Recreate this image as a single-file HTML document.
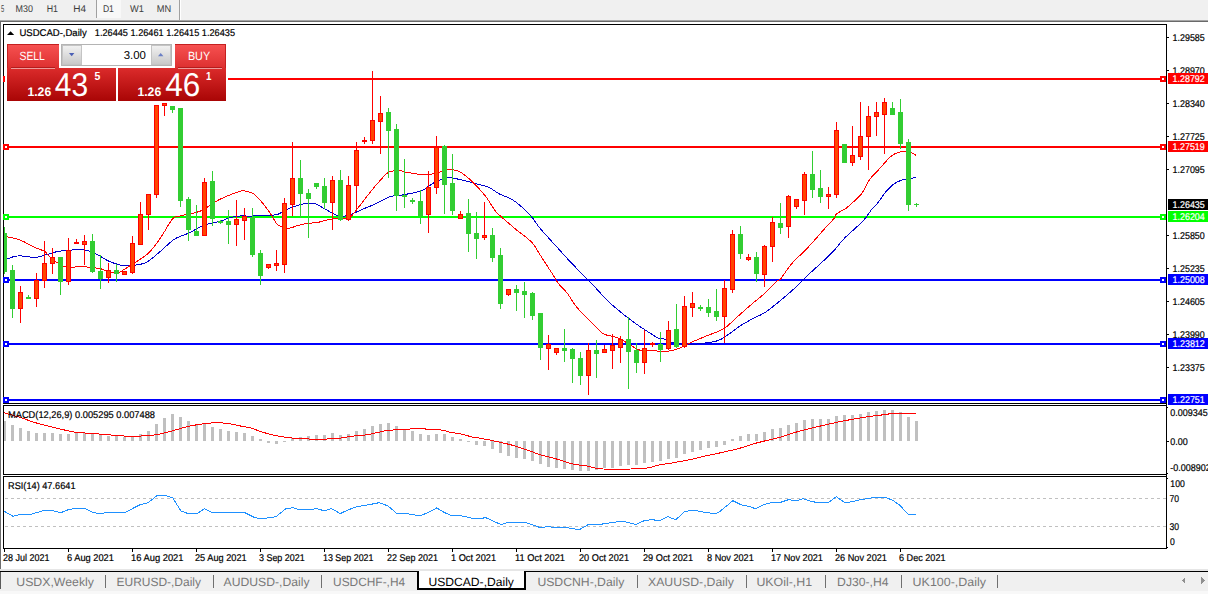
<!DOCTYPE html>
<html><head><meta charset="utf-8"><title>USDCAD-,Daily</title>
<style>
html,body{margin:0;padding:0;background:#fff;overflow:hidden}
svg{display:block;font-family:"Liberation Sans",sans-serif}
rect,polygon{shape-rendering:crispEdges}
</style></head><body>
<svg width="1208" height="594" viewBox="0 0 1208 594" text-rendering="geometricPrecision">
<rect x="0" y="0" width="1208" height="594" fill="#fff"/>
<rect x="0" y="0" width="1208" height="20" fill="#f0f0f0"/>
<rect x="97" y="0" width="24" height="18" fill="#f8f8f8"/>
<rect x="96" y="0" width="1" height="18" fill="#a0a0a0"/>
<rect x="179" y="0" width="1" height="20" fill="#a0a0a0"/>
<rect x="180" y="0" width="1" height="20" fill="#fff"/>
<rect x="0" y="20" width="1208" height="1" fill="#a6a6a6"/>
<rect x="0" y="21" width="1208" height="1" fill="#696969"/>
<rect x="0" y="22" width="1" height="547" fill="#6d6d6d"/>
<text x="1" y="12" font-size="9.8" fill="#3c3c3c" textLength="3.2" lengthAdjust="spacingAndGlyphs">5</text>
<text x="15.5" y="12" font-size="9.8" fill="#3c3c3c" textLength="17.4" lengthAdjust="spacingAndGlyphs">M30</text>
<text x="46.7" y="12" font-size="9.8" fill="#3c3c3c" textLength="11.3" lengthAdjust="spacingAndGlyphs">H1</text>
<text x="73.3" y="12" font-size="9.8" fill="#3c3c3c" textLength="12.8" lengthAdjust="spacingAndGlyphs">H4</text>
<text x="102.9" y="12" font-size="9.8" fill="#3c3c3c" textLength="11" lengthAdjust="spacingAndGlyphs">D1</text>
<text x="130.1" y="12" font-size="9.8" fill="#3c3c3c" textLength="13.9" lengthAdjust="spacingAndGlyphs">W1</text>
<text x="156.8" y="12" font-size="9.8" fill="#3c3c3c" textLength="14.4" lengthAdjust="spacingAndGlyphs">MN</text>
<rect x="3" y="24" width="1164" height="1" fill="#000"/>
<rect x="3" y="24" width="1" height="380" fill="#000"/>
<rect x="3" y="405" width="1" height="70" fill="#000"/>
<rect x="3" y="476" width="1" height="73" fill="#000"/>
<rect x="1166" y="24" width="1" height="525" fill="#000"/>
<rect x="3" y="403" width="1163" height="1" fill="#000"/>
<rect x="3" y="405" width="1163" height="1" fill="#000"/>
<rect x="3" y="474" width="1163" height="1" fill="#000"/>
<rect x="3" y="476" width="1163" height="1" fill="#000"/>
<rect x="3" y="548" width="1164" height="1" fill="#000"/>
<rect x="4" y="78" width="1162" height="2" fill="#ff0000"/>
<rect x="4" y="146" width="1162" height="2" fill="#ff0000"/>
<rect x="4" y="216" width="1162" height="2" fill="#00ff00"/>
<rect x="4" y="279" width="1162" height="2" fill="#0000ff"/>
<rect x="4" y="343" width="1162" height="2" fill="#0000ff"/>
<rect x="4" y="399" width="1162" height="2" fill="#0000ff"/>
<g shape-rendering="crispEdges">
<path d="M4.0,260.0C4.4,259.9 5.0,259.7 6.8,259.1C8.6,258.5 12.6,256.7 15.5,256.2C18.4,255.7 22.1,256.0 25.2,256.2C28.3,256.4 31.8,257.9 34.9,257.7C38.0,257.5 40.9,256.2 44.6,255.2C48.3,254.2 53.8,252.2 58.1,251.4C62.4,250.6 67.3,250.2 71.7,250.0C76.1,249.8 81.3,249.3 85.3,250.0C89.3,250.7 93.2,252.5 96.9,254.3C100.6,256.1 104.8,259.3 108.5,261.0C112.2,262.7 116.4,264.3 120.2,265.0C124.0,265.7 127.9,265.8 132.1,265.4C136.3,265.0 141.8,264.7 146.3,262.4C150.8,260.1 155.9,255.0 160.4,251.3C164.9,247.6 170.0,242.0 174.5,239.1C179.0,236.2 183.9,235.4 188.7,233.1C193.5,230.8 199.6,226.9 204.8,225.0C210.0,223.1 217.1,222.1 221.0,221.0C224.9,219.9 225.9,218.7 229.1,217.9C232.3,217.1 237.9,216.2 241.2,215.9C244.5,215.6 245.0,216.2 250.0,216.1C255.0,216.0 267.7,215.4 272.2,215.1C276.7,214.8 275.4,215.2 278.3,214.1C281.2,213.0 286.5,209.6 290.4,208.0C294.3,206.4 298.7,204.7 302.6,204.0C306.5,203.3 311.1,202.7 314.7,203.5C318.3,204.3 320.9,207.0 324.8,209.0C328.7,211.0 335.0,215.1 338.9,216.1C342.8,217.1 345.1,216.2 349.0,215.1C352.9,214.0 359.0,210.8 363.2,209.0C367.4,207.2 371.1,205.9 375.3,204.0C379.5,202.1 385.6,198.3 389.5,196.9C393.4,195.5 396.3,195.8 399.6,195.3C402.9,194.8 406.6,194.3 410.2,193.5C413.8,192.7 418.4,192.3 422.3,190.5C426.2,188.7 430.3,184.4 434.5,182.4C438.7,180.4 444.7,178.2 448.6,177.7C452.5,177.2 454.5,178.4 458.7,179.3C462.9,180.2 470.1,182.1 474.9,183.4C479.7,184.7 485.1,185.7 489.0,187.4C492.9,189.1 495.6,192.0 499.2,193.9C502.8,195.8 507.7,197.1 511.3,199.1C514.9,201.1 518.2,203.8 521.4,206.6C524.6,209.4 528.6,213.3 531.5,216.7C534.4,220.1 536.6,224.2 539.6,227.8C542.6,231.4 546.7,235.9 550.0,239.5C553.3,243.1 556.8,247.0 560.0,250.5C563.2,254.0 566.2,257.5 570.0,261.5C573.8,265.5 580.2,272.0 583.7,275.5C587.2,279.0 588.9,280.5 591.8,283.6C594.7,286.7 598.7,291.3 601.9,294.7C605.1,298.1 608.4,301.6 612.0,304.8C615.6,308.0 620.3,311.8 624.2,314.9C628.1,318.0 632.4,321.2 636.3,324.0C640.2,326.8 644.8,329.8 648.4,332.1C652.0,334.4 655.8,337.0 658.5,338.2C661.2,339.4 662.4,338.5 665.1,339.3C667.8,340.1 671.0,342.5 675.2,343.3C679.4,344.1 686.9,344.3 691.4,344.3C695.9,344.3 699.3,343.9 703.5,343.3C707.7,342.7 714.1,341.8 717.7,340.7C721.3,339.6 722.2,338.6 725.8,336.3C729.4,334.0 735.7,328.9 739.9,326.1C744.1,323.3 748.1,321.2 752.0,319.1C755.9,317.0 760.3,315.4 764.2,313.0C768.1,310.6 772.4,307.0 776.3,303.9C780.2,300.8 784.5,297.2 788.4,293.8C792.3,290.4 798.2,284.9 800.5,282.7C802.8,280.5 800.4,282.2 802.9,279.8C805.4,277.4 811.4,272.0 816.1,267.6C820.8,263.2 827.7,257.2 832.2,252.5C836.7,247.8 840.5,242.3 844.4,238.3C848.3,234.3 853.2,230.3 856.5,227.2C859.8,224.1 862.6,221.5 865.0,218.7C867.4,215.9 869.3,212.4 871.4,209.8C873.5,207.2 875.6,205.6 877.9,202.7C880.2,199.8 883.4,194.6 886.0,191.6C888.6,188.6 891.4,185.8 894.0,183.9C896.6,182.0 899.5,180.8 902.1,180.0C904.7,179.2 908.0,179.5 910.2,179.0C912.4,178.5 915.0,177.3 915.9,177.0" fill="none" stroke="#0000cd" stroke-width="1"/>
<path d="M4.0,236.5C4.4,236.5 4.3,236.3 6.8,236.8C9.3,237.3 14.9,238.0 19.4,239.7C23.9,241.4 30.9,245.6 34.9,247.5C38.9,249.4 42.1,249.8 44.6,251.4C47.1,253.0 47.3,254.8 50.4,257.2C53.5,259.6 58.4,264.7 64.0,266.3C69.6,267.9 79.4,266.5 85.3,266.9C91.2,267.3 97.1,268.0 100.8,268.8C104.5,269.6 105.7,271.1 108.5,271.7C111.3,272.3 115.5,273.1 118.0,272.7C120.5,272.3 121.7,270.8 124.0,269.5C126.3,268.2 128.2,267.0 132.1,264.4C136.0,261.8 143.8,257.5 148.3,253.3C152.8,249.1 156.5,243.6 160.4,238.1C164.3,232.6 169.3,222.5 172.5,218.9C175.7,215.3 176.1,217.2 180.6,215.9C185.1,214.6 195.0,213.3 200.8,210.9C206.6,208.5 211.8,203.6 217.0,200.8C222.2,198.0 228.9,195.3 233.1,193.7C237.3,192.1 240.0,190.7 243.2,190.7C246.4,190.7 250.6,192.2 253.3,193.7C256.0,195.2 257.3,196.8 260.0,199.9C262.7,203.0 267.6,209.4 270.2,213.1C272.8,216.8 274.4,220.9 276.3,223.2C278.2,225.5 280.5,226.3 282.3,227.2C284.1,228.1 284.2,229.3 287.4,228.8C290.6,228.3 297.6,225.3 302.6,224.2C307.6,223.1 314.2,223.0 318.7,222.2C323.2,221.4 326.1,219.8 330.9,219.1C335.7,218.4 344.2,219.7 348.4,218.1C352.6,216.5 353.4,213.4 357.1,209.0C360.8,204.6 367.5,195.5 371.3,190.8C375.1,186.1 378.2,182.5 381.0,179.5C383.8,176.5 385.5,173.7 388.5,172.3C391.5,170.9 396.8,170.5 399.6,170.5C402.4,170.5 401.9,171.6 406.2,172.3C410.5,173.0 421.2,174.9 426.4,174.9C431.6,174.9 434.9,173.1 438.5,172.3C442.1,171.5 445.4,170.0 448.6,169.8C451.8,169.6 455.1,169.6 458.7,171.3C462.3,173.0 466.7,176.4 470.9,180.3C475.1,184.2 481.1,190.6 485.0,195.5C488.9,200.4 492.5,207.3 495.1,210.7C497.7,214.1 498.0,213.8 501.2,216.7C504.4,219.6 510.5,224.9 515.3,228.9C520.1,232.9 527.6,238.0 531.5,242.0C535.4,246.0 536.1,248.7 539.6,254.1C543.1,259.5 550.4,270.8 553.4,275.5C556.4,280.2 556.2,280.7 558.5,283.6C560.8,286.5 564.9,290.1 567.6,293.7C570.3,297.3 572.7,302.1 575.6,305.8C578.5,309.5 582.6,313.5 585.8,316.9C589.0,320.3 593.0,324.2 595.9,327.0C598.8,329.8 600.7,332.5 603.9,334.1C607.1,335.7 612.9,336.1 616.1,337.2C619.3,338.3 621.6,339.7 624.2,341.2C626.8,342.7 629.6,344.8 632.2,346.3C634.8,347.8 637.1,349.7 640.3,350.3C643.5,350.9 649.3,350.1 652.5,350.3C655.7,350.5 657.7,351.2 660.0,351.4C662.3,351.6 664.0,351.9 667.1,351.4C670.2,350.9 675.4,349.9 679.3,348.4C683.2,346.9 687.2,344.2 691.4,342.3C695.6,340.4 700.3,338.5 705.5,336.3C710.7,334.1 718.8,331.7 723.7,328.8C728.6,325.9 731.4,322.1 735.9,318.1C740.4,314.1 747.5,307.8 752.0,303.9C756.5,300.0 760.3,297.4 764.2,293.8C768.1,290.2 773.7,284.1 776.3,281.7C778.9,279.3 778.2,281.7 780.7,278.8C783.2,275.9 787.4,268.6 791.8,263.6C796.2,258.6 802.8,252.9 808.0,247.4C813.2,241.9 820.0,233.9 824.2,229.2C828.4,224.5 832.4,220.5 834.3,218.1C836.2,215.7 834.4,215.7 836.3,214.1C838.2,212.5 843.6,210.0 846.4,208.0C849.2,206.0 851.2,204.0 853.6,201.7C856.0,199.4 859.1,197.2 861.7,193.6C864.3,190.0 866.9,183.4 869.8,179.4C872.7,175.4 876.7,171.9 879.9,168.3C883.1,164.7 887.4,159.6 890.0,157.2C892.6,154.8 894.2,154.1 896.1,153.2C898.0,152.3 899.8,151.9 902.1,151.7C904.4,151.5 908.0,151.6 910.2,152.2C912.4,152.8 915.0,154.7 915.9,155.2" fill="none" stroke="#ff0000" stroke-width="1"/>
</g>
<rect x="4" y="227" width="1" height="47" fill="#32cd32"/>
<rect x="2" y="233" width="5" height="39" fill="#32cd32"/>
<rect x="12" y="265" width="1" height="53" fill="#32cd32"/>
<rect x="10" y="270" width="5" height="39" fill="#32cd32"/>
<rect x="20" y="286" width="1" height="37" fill="#ff0000"/>
<rect x="18" y="292" width="5" height="17" fill="#ff0000"/>
<rect x="19" y="293" width="3" height="15" fill="#ff4500"/>
<rect x="28" y="295" width="1" height="4" fill="#32cd32"/>
<rect x="26" y="297" width="5" height="2" fill="#32cd32"/>
<rect x="36" y="273" width="1" height="34" fill="#ff0000"/>
<rect x="34" y="280" width="5" height="19" fill="#ff0000"/>
<rect x="35" y="281" width="3" height="17" fill="#ff4500"/>
<rect x="44" y="241" width="1" height="47" fill="#ff0000"/>
<rect x="42" y="263" width="5" height="18" fill="#ff0000"/>
<rect x="43" y="264" width="3" height="16" fill="#ff4500"/>
<rect x="52" y="248" width="1" height="26" fill="#ff0000"/>
<rect x="50" y="257" width="5" height="7" fill="#ff0000"/>
<rect x="51" y="258" width="3" height="5" fill="#ff4500"/>
<rect x="60" y="257" width="1" height="38" fill="#32cd32"/>
<rect x="58" y="257" width="5" height="25" fill="#32cd32"/>
<rect x="68" y="238" width="1" height="47" fill="#ff0000"/>
<rect x="66" y="250" width="5" height="32" fill="#ff0000"/>
<rect x="67" y="251" width="3" height="30" fill="#ff4500"/>
<rect x="76" y="239" width="1" height="5" fill="#ff0000"/>
<rect x="74" y="242" width="5" height="2" fill="#ff0000"/>
<rect x="84" y="235" width="1" height="30" fill="#ff0000"/>
<rect x="82" y="241" width="5" height="4" fill="#ff0000"/>
<rect x="83" y="242" width="3" height="2" fill="#ff4500"/>
<rect x="92" y="234" width="1" height="39" fill="#32cd32"/>
<rect x="90" y="241" width="5" height="31" fill="#32cd32"/>
<rect x="100" y="255" width="1" height="34" fill="#32cd32"/>
<rect x="98" y="271" width="5" height="8" fill="#32cd32"/>
<rect x="108" y="263" width="1" height="20" fill="#ff0000"/>
<rect x="106" y="270" width="5" height="8" fill="#ff0000"/>
<rect x="107" y="271" width="3" height="6" fill="#ff4500"/>
<rect x="116" y="264" width="1" height="18" fill="#32cd32"/>
<rect x="114" y="270" width="5" height="4" fill="#32cd32"/>
<rect x="124" y="271" width="1" height="4" fill="#ff0000"/>
<rect x="122" y="271" width="5" height="4" fill="#ff0000"/>
<rect x="123" y="272" width="3" height="2" fill="#ff4500"/>
<rect x="132" y="236" width="1" height="38" fill="#ff0000"/>
<rect x="130" y="243" width="5" height="30" fill="#ff0000"/>
<rect x="131" y="244" width="3" height="28" fill="#ff4500"/>
<rect x="140" y="202" width="1" height="43" fill="#ff0000"/>
<rect x="138" y="214" width="5" height="31" fill="#ff0000"/>
<rect x="139" y="215" width="3" height="29" fill="#ff4500"/>
<rect x="148" y="194" width="1" height="36" fill="#ff0000"/>
<rect x="146" y="194" width="5" height="21" fill="#ff0000"/>
<rect x="147" y="195" width="3" height="19" fill="#ff4500"/>
<rect x="156" y="105" width="1" height="93" fill="#ff0000"/>
<rect x="154" y="105" width="5" height="90" fill="#ff0000"/>
<rect x="155" y="106" width="3" height="88" fill="#ff4500"/>
<rect x="164" y="103" width="1" height="13" fill="#ff0000"/>
<rect x="162" y="103" width="5" height="3" fill="#ff0000"/>
<rect x="163" y="104" width="3" height="1" fill="#ff4500"/>
<rect x="172" y="106" width="1" height="7" fill="#32cd32"/>
<rect x="170" y="106" width="5" height="4" fill="#32cd32"/>
<rect x="180" y="108" width="1" height="99" fill="#32cd32"/>
<rect x="178" y="108" width="5" height="93" fill="#32cd32"/>
<rect x="188" y="197" width="1" height="44" fill="#32cd32"/>
<rect x="186" y="199" width="5" height="31" fill="#32cd32"/>
<rect x="196" y="205" width="1" height="31" fill="#32cd32"/>
<rect x="194" y="231" width="5" height="5" fill="#32cd32"/>
<rect x="204" y="178" width="1" height="58" fill="#ff0000"/>
<rect x="202" y="182" width="5" height="54" fill="#ff0000"/>
<rect x="203" y="183" width="3" height="52" fill="#ff4500"/>
<rect x="212" y="171" width="1" height="55" fill="#32cd32"/>
<rect x="210" y="181" width="5" height="38" fill="#32cd32"/>
<rect x="220" y="220" width="1" height="4" fill="#32cd32"/>
<rect x="218" y="221" width="5" height="2" fill="#32cd32"/>
<rect x="228" y="210" width="1" height="34" fill="#32cd32"/>
<rect x="226" y="221" width="5" height="4" fill="#32cd32"/>
<rect x="236" y="200" width="1" height="46" fill="#ff0000"/>
<rect x="234" y="219" width="5" height="6" fill="#ff0000"/>
<rect x="235" y="220" width="3" height="4" fill="#ff4500"/>
<rect x="244" y="208" width="1" height="32" fill="#ff0000"/>
<rect x="242" y="216" width="5" height="5" fill="#ff0000"/>
<rect x="243" y="217" width="3" height="3" fill="#ff4500"/>
<rect x="252" y="208" width="1" height="49" fill="#32cd32"/>
<rect x="250" y="217" width="5" height="38" fill="#32cd32"/>
<rect x="260" y="250" width="1" height="35" fill="#32cd32"/>
<rect x="258" y="253" width="5" height="23" fill="#32cd32"/>
<rect x="268" y="264" width="1" height="5" fill="#ff0000"/>
<rect x="266" y="264" width="5" height="4" fill="#ff0000"/>
<rect x="267" y="265" width="3" height="2" fill="#ff4500"/>
<rect x="276" y="250" width="1" height="21" fill="#ff0000"/>
<rect x="274" y="263" width="5" height="3" fill="#ff0000"/>
<rect x="275" y="264" width="3" height="1" fill="#ff4500"/>
<rect x="284" y="198" width="1" height="75" fill="#ff0000"/>
<rect x="282" y="203" width="5" height="62" fill="#ff0000"/>
<rect x="283" y="204" width="3" height="60" fill="#ff4500"/>
<rect x="292" y="142" width="1" height="74" fill="#ff0000"/>
<rect x="290" y="178" width="5" height="27" fill="#ff0000"/>
<rect x="291" y="179" width="3" height="25" fill="#ff4500"/>
<rect x="300" y="160" width="1" height="58" fill="#32cd32"/>
<rect x="298" y="178" width="5" height="16" fill="#32cd32"/>
<rect x="308" y="189" width="1" height="49" fill="#32cd32"/>
<rect x="306" y="193" width="5" height="6" fill="#32cd32"/>
<rect x="316" y="183" width="1" height="6" fill="#32cd32"/>
<rect x="314" y="183" width="5" height="4" fill="#32cd32"/>
<rect x="324" y="178" width="1" height="31" fill="#32cd32"/>
<rect x="322" y="186" width="5" height="17" fill="#32cd32"/>
<rect x="332" y="176" width="1" height="54" fill="#ff0000"/>
<rect x="330" y="180" width="5" height="23" fill="#ff0000"/>
<rect x="331" y="181" width="3" height="21" fill="#ff4500"/>
<rect x="340" y="170" width="1" height="51" fill="#32cd32"/>
<rect x="338" y="180" width="5" height="40" fill="#32cd32"/>
<rect x="348" y="176" width="1" height="45" fill="#ff0000"/>
<rect x="346" y="185" width="5" height="35" fill="#ff0000"/>
<rect x="347" y="186" width="3" height="33" fill="#ff4500"/>
<rect x="356" y="142" width="1" height="69" fill="#ff0000"/>
<rect x="354" y="150" width="5" height="36" fill="#ff0000"/>
<rect x="355" y="151" width="3" height="34" fill="#ff4500"/>
<rect x="364" y="137" width="1" height="7" fill="#ff0000"/>
<rect x="362" y="140" width="5" height="2" fill="#ff0000"/>
<rect x="372" y="71" width="1" height="73" fill="#ff0000"/>
<rect x="370" y="120" width="5" height="21" fill="#ff0000"/>
<rect x="371" y="121" width="3" height="19" fill="#ff4500"/>
<rect x="380" y="96" width="1" height="58" fill="#ff0000"/>
<rect x="378" y="113" width="5" height="9" fill="#ff0000"/>
<rect x="379" y="114" width="3" height="7" fill="#ff4500"/>
<rect x="388" y="108" width="1" height="70" fill="#32cd32"/>
<rect x="386" y="112" width="5" height="19" fill="#32cd32"/>
<rect x="396" y="124" width="1" height="87" fill="#32cd32"/>
<rect x="394" y="129" width="5" height="67" fill="#32cd32"/>
<rect x="404" y="159" width="1" height="49" fill="#32cd32"/>
<rect x="402" y="195" width="5" height="2" fill="#32cd32"/>
<rect x="412" y="198" width="1" height="6" fill="#32cd32"/>
<rect x="410" y="200" width="5" height="2" fill="#32cd32"/>
<rect x="420" y="190" width="1" height="34" fill="#32cd32"/>
<rect x="418" y="201" width="5" height="15" fill="#32cd32"/>
<rect x="428" y="171" width="1" height="62" fill="#ff0000"/>
<rect x="426" y="187" width="5" height="28" fill="#ff0000"/>
<rect x="427" y="188" width="3" height="26" fill="#ff4500"/>
<rect x="436" y="136" width="1" height="58" fill="#ff0000"/>
<rect x="434" y="147" width="5" height="41" fill="#ff0000"/>
<rect x="435" y="148" width="3" height="39" fill="#ff4500"/>
<rect x="444" y="145" width="1" height="69" fill="#32cd32"/>
<rect x="442" y="146" width="5" height="39" fill="#32cd32"/>
<rect x="452" y="154" width="1" height="61" fill="#32cd32"/>
<rect x="450" y="183" width="5" height="28" fill="#32cd32"/>
<rect x="460" y="211" width="1" height="8" fill="#ff0000"/>
<rect x="458" y="214" width="5" height="5" fill="#ff0000"/>
<rect x="459" y="215" width="3" height="3" fill="#ff4500"/>
<rect x="468" y="199" width="1" height="53" fill="#32cd32"/>
<rect x="466" y="213" width="5" height="21" fill="#32cd32"/>
<rect x="476" y="212" width="1" height="47" fill="#32cd32"/>
<rect x="474" y="233" width="5" height="6" fill="#32cd32"/>
<rect x="484" y="202" width="1" height="38" fill="#ff0000"/>
<rect x="482" y="235" width="5" height="3" fill="#ff0000"/>
<rect x="483" y="236" width="3" height="1" fill="#ff4500"/>
<rect x="492" y="228" width="1" height="34" fill="#32cd32"/>
<rect x="490" y="235" width="5" height="23" fill="#32cd32"/>
<rect x="500" y="248" width="1" height="61" fill="#32cd32"/>
<rect x="498" y="255" width="5" height="49" fill="#32cd32"/>
<rect x="508" y="289" width="1" height="7" fill="#ff0000"/>
<rect x="506" y="289" width="5" height="6" fill="#ff0000"/>
<rect x="507" y="290" width="3" height="4" fill="#ff4500"/>
<rect x="516" y="285" width="1" height="26" fill="#32cd32"/>
<rect x="514" y="289" width="5" height="4" fill="#32cd32"/>
<rect x="524" y="282" width="1" height="36" fill="#32cd32"/>
<rect x="522" y="291" width="5" height="4" fill="#32cd32"/>
<rect x="532" y="292" width="1" height="28" fill="#32cd32"/>
<rect x="530" y="293" width="5" height="23" fill="#32cd32"/>
<rect x="540" y="313" width="1" height="47" fill="#32cd32"/>
<rect x="538" y="313" width="5" height="35" fill="#32cd32"/>
<rect x="548" y="335" width="1" height="35" fill="#ff0000"/>
<rect x="546" y="344" width="5" height="5" fill="#ff0000"/>
<rect x="547" y="345" width="3" height="3" fill="#ff4500"/>
<rect x="556" y="348" width="1" height="7" fill="#ff0000"/>
<rect x="554" y="348" width="5" height="5" fill="#ff0000"/>
<rect x="555" y="349" width="3" height="3" fill="#ff4500"/>
<rect x="564" y="329" width="1" height="33" fill="#32cd32"/>
<rect x="562" y="348" width="5" height="3" fill="#32cd32"/>
<rect x="572" y="348" width="1" height="35" fill="#32cd32"/>
<rect x="570" y="349" width="5" height="10" fill="#32cd32"/>
<rect x="580" y="352" width="1" height="33" fill="#32cd32"/>
<rect x="578" y="358" width="5" height="18" fill="#32cd32"/>
<rect x="588" y="343" width="1" height="52" fill="#ff0000"/>
<rect x="586" y="350" width="5" height="26" fill="#ff0000"/>
<rect x="587" y="351" width="3" height="24" fill="#ff4500"/>
<rect x="596" y="340" width="1" height="38" fill="#32cd32"/>
<rect x="594" y="350" width="5" height="4" fill="#32cd32"/>
<rect x="604" y="345" width="1" height="8" fill="#ff0000"/>
<rect x="602" y="349" width="5" height="4" fill="#ff0000"/>
<rect x="603" y="350" width="3" height="2" fill="#ff4500"/>
<rect x="612" y="334" width="1" height="35" fill="#ff0000"/>
<rect x="610" y="345" width="5" height="6" fill="#ff0000"/>
<rect x="611" y="346" width="3" height="4" fill="#ff4500"/>
<rect x="620" y="336" width="1" height="27" fill="#ff0000"/>
<rect x="618" y="339" width="5" height="9" fill="#ff0000"/>
<rect x="619" y="340" width="3" height="7" fill="#ff4500"/>
<rect x="628" y="317" width="1" height="72" fill="#32cd32"/>
<rect x="626" y="339" width="5" height="13" fill="#32cd32"/>
<rect x="636" y="343" width="1" height="30" fill="#32cd32"/>
<rect x="634" y="350" width="5" height="13" fill="#32cd32"/>
<rect x="644" y="330" width="1" height="44" fill="#ff0000"/>
<rect x="642" y="348" width="5" height="15" fill="#ff0000"/>
<rect x="643" y="349" width="3" height="13" fill="#ff4500"/>
<rect x="652" y="342" width="1" height="5" fill="#ff0000"/>
<rect x="650" y="343" width="5" height="2" fill="#ff0000"/>
<rect x="660" y="332" width="1" height="30" fill="#32cd32"/>
<rect x="658" y="344" width="5" height="6" fill="#32cd32"/>
<rect x="668" y="321" width="1" height="29" fill="#ff0000"/>
<rect x="666" y="330" width="5" height="19" fill="#ff0000"/>
<rect x="667" y="331" width="3" height="17" fill="#ff4500"/>
<rect x="676" y="304" width="1" height="44" fill="#32cd32"/>
<rect x="674" y="329" width="5" height="18" fill="#32cd32"/>
<rect x="684" y="296" width="1" height="52" fill="#ff0000"/>
<rect x="682" y="306" width="5" height="41" fill="#ff0000"/>
<rect x="683" y="307" width="3" height="39" fill="#ff4500"/>
<rect x="692" y="292" width="1" height="25" fill="#ff0000"/>
<rect x="690" y="303" width="5" height="5" fill="#ff0000"/>
<rect x="691" y="304" width="3" height="3" fill="#ff4500"/>
<rect x="700" y="305" width="1" height="6" fill="#32cd32"/>
<rect x="698" y="307" width="5" height="2" fill="#32cd32"/>
<rect x="708" y="299" width="1" height="18" fill="#32cd32"/>
<rect x="706" y="307" width="5" height="6" fill="#32cd32"/>
<rect x="716" y="289" width="1" height="32" fill="#32cd32"/>
<rect x="714" y="311" width="5" height="6" fill="#32cd32"/>
<rect x="724" y="280" width="1" height="63" fill="#ff0000"/>
<rect x="722" y="288" width="5" height="29" fill="#ff0000"/>
<rect x="723" y="289" width="3" height="27" fill="#ff4500"/>
<rect x="732" y="230" width="1" height="63" fill="#ff0000"/>
<rect x="730" y="234" width="5" height="56" fill="#ff0000"/>
<rect x="731" y="235" width="3" height="54" fill="#ff4500"/>
<rect x="740" y="226" width="1" height="33" fill="#32cd32"/>
<rect x="738" y="234" width="5" height="20" fill="#32cd32"/>
<rect x="748" y="254" width="1" height="7" fill="#ff0000"/>
<rect x="746" y="257" width="5" height="3" fill="#ff0000"/>
<rect x="747" y="258" width="3" height="1" fill="#ff4500"/>
<rect x="756" y="252" width="1" height="30" fill="#32cd32"/>
<rect x="754" y="257" width="5" height="17" fill="#32cd32"/>
<rect x="764" y="245" width="1" height="42" fill="#ff0000"/>
<rect x="762" y="246" width="5" height="29" fill="#ff0000"/>
<rect x="763" y="247" width="3" height="27" fill="#ff4500"/>
<rect x="772" y="217" width="1" height="45" fill="#ff0000"/>
<rect x="770" y="222" width="5" height="25" fill="#ff0000"/>
<rect x="771" y="223" width="3" height="23" fill="#ff4500"/>
<rect x="780" y="203" width="1" height="31" fill="#32cd32"/>
<rect x="778" y="223" width="5" height="5" fill="#32cd32"/>
<rect x="788" y="195" width="1" height="43" fill="#ff0000"/>
<rect x="786" y="196" width="5" height="31" fill="#ff0000"/>
<rect x="787" y="197" width="3" height="29" fill="#ff4500"/>
<rect x="796" y="199" width="1" height="10" fill="#ff0000"/>
<rect x="794" y="199" width="5" height="8" fill="#ff0000"/>
<rect x="795" y="200" width="3" height="6" fill="#ff4500"/>
<rect x="804" y="172" width="1" height="43" fill="#ff0000"/>
<rect x="802" y="174" width="5" height="27" fill="#ff0000"/>
<rect x="803" y="175" width="3" height="25" fill="#ff4500"/>
<rect x="812" y="151" width="1" height="47" fill="#32cd32"/>
<rect x="810" y="174" width="5" height="16" fill="#32cd32"/>
<rect x="820" y="170" width="1" height="33" fill="#32cd32"/>
<rect x="818" y="188" width="5" height="9" fill="#32cd32"/>
<rect x="828" y="187" width="1" height="22" fill="#ff0000"/>
<rect x="826" y="194" width="5" height="3" fill="#ff0000"/>
<rect x="827" y="195" width="3" height="1" fill="#ff4500"/>
<rect x="836" y="122" width="1" height="76" fill="#ff0000"/>
<rect x="834" y="130" width="5" height="65" fill="#ff0000"/>
<rect x="835" y="131" width="3" height="63" fill="#ff4500"/>
<rect x="844" y="144" width="1" height="19" fill="#32cd32"/>
<rect x="842" y="144" width="5" height="19" fill="#32cd32"/>
<rect x="852" y="126" width="1" height="40" fill="#ff0000"/>
<rect x="850" y="155" width="5" height="8" fill="#ff0000"/>
<rect x="851" y="156" width="3" height="6" fill="#ff4500"/>
<rect x="860" y="102" width="1" height="58" fill="#ff0000"/>
<rect x="858" y="136" width="5" height="21" fill="#ff0000"/>
<rect x="859" y="137" width="3" height="19" fill="#ff4500"/>
<rect x="868" y="106" width="1" height="64" fill="#ff0000"/>
<rect x="866" y="116" width="5" height="21" fill="#ff0000"/>
<rect x="867" y="117" width="3" height="19" fill="#ff4500"/>
<rect x="876" y="102" width="1" height="34" fill="#ff0000"/>
<rect x="874" y="112" width="5" height="5" fill="#ff0000"/>
<rect x="875" y="113" width="3" height="3" fill="#ff4500"/>
<rect x="884" y="98" width="1" height="56" fill="#ff0000"/>
<rect x="882" y="102" width="5" height="13" fill="#ff0000"/>
<rect x="883" y="103" width="3" height="11" fill="#ff4500"/>
<rect x="892" y="102" width="1" height="13" fill="#32cd32"/>
<rect x="890" y="108" width="5" height="7" fill="#32cd32"/>
<rect x="900" y="99" width="1" height="50" fill="#32cd32"/>
<rect x="898" y="112" width="5" height="32" fill="#32cd32"/>
<rect x="908" y="139" width="1" height="72" fill="#32cd32"/>
<rect x="906" y="142" width="5" height="63" fill="#32cd32"/>
<rect x="916" y="203" width="1" height="4" fill="#32cd32"/>
<rect x="914" y="204" width="5" height="1" fill="#32cd32"/>
<rect x="0" y="22" width="1" height="547" fill="#6d6d6d"/>
<rect x="1" y="22" width="2" height="382" fill="#fff"/>
<rect x="3" y="24" width="1" height="380" fill="#000"/>
<rect x="3" y="76" width="6" height="6" fill="#ff0000"/>
<rect x="5" y="78" width="2" height="2" fill="#fff"/>
<rect x="1160" y="76" width="6" height="6" fill="#ff0000"/>
<rect x="1162" y="78" width="2" height="2" fill="#fff"/>
<rect x="3" y="144" width="6" height="6" fill="#ff0000"/>
<rect x="5" y="146" width="2" height="2" fill="#fff"/>
<rect x="1160" y="144" width="6" height="6" fill="#ff0000"/>
<rect x="1162" y="146" width="2" height="2" fill="#fff"/>
<rect x="3" y="214" width="6" height="6" fill="#00ff00"/>
<rect x="5" y="216" width="2" height="2" fill="#fff"/>
<rect x="1160" y="214" width="6" height="6" fill="#00ff00"/>
<rect x="1162" y="216" width="2" height="2" fill="#fff"/>
<rect x="3" y="277" width="6" height="6" fill="#0000ff"/>
<rect x="5" y="279" width="2" height="2" fill="#fff"/>
<rect x="1160" y="277" width="6" height="6" fill="#0000ff"/>
<rect x="1162" y="279" width="2" height="2" fill="#fff"/>
<rect x="3" y="341" width="6" height="6" fill="#0000ff"/>
<rect x="5" y="343" width="2" height="2" fill="#fff"/>
<rect x="1160" y="341" width="6" height="6" fill="#0000ff"/>
<rect x="1162" y="343" width="2" height="2" fill="#fff"/>
<rect x="3" y="397" width="6" height="6" fill="#0000ff"/>
<rect x="5" y="399" width="2" height="2" fill="#fff"/>
<rect x="1160" y="397" width="6" height="6" fill="#0000ff"/>
<rect x="1162" y="399" width="2" height="2" fill="#fff"/>
<rect x="3" y="421" width="3" height="20" fill="#c0c0c0"/>
<rect x="11" y="425" width="3" height="16" fill="#c0c0c0"/>
<rect x="19" y="428" width="3" height="13" fill="#c0c0c0"/>
<rect x="27" y="431" width="3" height="10" fill="#c0c0c0"/>
<rect x="35" y="433" width="3" height="8" fill="#c0c0c0"/>
<rect x="43" y="433" width="3" height="8" fill="#c0c0c0"/>
<rect x="51" y="433" width="3" height="8" fill="#c0c0c0"/>
<rect x="59" y="434" width="3" height="7" fill="#c0c0c0"/>
<rect x="67" y="434" width="3" height="7" fill="#c0c0c0"/>
<rect x="75" y="433" width="3" height="8" fill="#c0c0c0"/>
<rect x="83" y="433" width="3" height="8" fill="#c0c0c0"/>
<rect x="91" y="434" width="3" height="7" fill="#c0c0c0"/>
<rect x="99" y="435" width="3" height="6" fill="#c0c0c0"/>
<rect x="107" y="436" width="3" height="5" fill="#c0c0c0"/>
<rect x="115" y="436" width="3" height="5" fill="#c0c0c0"/>
<rect x="123" y="437" width="3" height="4" fill="#c0c0c0"/>
<rect x="131" y="436" width="3" height="5" fill="#c0c0c0"/>
<rect x="139" y="434" width="3" height="7" fill="#c0c0c0"/>
<rect x="147" y="431" width="3" height="10" fill="#c0c0c0"/>
<rect x="155" y="424" width="3" height="17" fill="#c0c0c0"/>
<rect x="163" y="418" width="3" height="23" fill="#c0c0c0"/>
<rect x="171" y="414" width="3" height="27" fill="#c0c0c0"/>
<rect x="179" y="417" width="3" height="24" fill="#c0c0c0"/>
<rect x="187" y="421" width="3" height="20" fill="#c0c0c0"/>
<rect x="195" y="425" width="3" height="16" fill="#c0c0c0"/>
<rect x="203" y="424" width="3" height="17" fill="#c0c0c0"/>
<rect x="211" y="427" width="3" height="14" fill="#c0c0c0"/>
<rect x="219" y="429" width="3" height="12" fill="#c0c0c0"/>
<rect x="227" y="431" width="3" height="10" fill="#c0c0c0"/>
<rect x="235" y="432" width="3" height="9" fill="#c0c0c0"/>
<rect x="243" y="433" width="3" height="8" fill="#c0c0c0"/>
<rect x="251" y="436" width="3" height="5" fill="#c0c0c0"/>
<rect x="259" y="439" width="3" height="2" fill="#c0c0c0"/>
<rect x="267" y="441" width="3" height="2" fill="#c0c0c0"/>
<rect x="275" y="441" width="3" height="3" fill="#c0c0c0"/>
<rect x="283" y="441" width="3" height="1" fill="#c0c0c0"/>
<rect x="291" y="438" width="3" height="3" fill="#c0c0c0"/>
<rect x="299" y="437" width="3" height="4" fill="#c0c0c0"/>
<rect x="307" y="436" width="3" height="5" fill="#c0c0c0"/>
<rect x="315" y="435" width="3" height="6" fill="#c0c0c0"/>
<rect x="323" y="435" width="3" height="6" fill="#c0c0c0"/>
<rect x="331" y="433" width="3" height="8" fill="#c0c0c0"/>
<rect x="339" y="435" width="3" height="6" fill="#c0c0c0"/>
<rect x="347" y="434" width="3" height="7" fill="#c0c0c0"/>
<rect x="355" y="431" width="3" height="10" fill="#c0c0c0"/>
<rect x="363" y="429" width="3" height="12" fill="#c0c0c0"/>
<rect x="371" y="426" width="3" height="15" fill="#c0c0c0"/>
<rect x="379" y="424" width="3" height="17" fill="#c0c0c0"/>
<rect x="387" y="423" width="3" height="18" fill="#c0c0c0"/>
<rect x="395" y="426" width="3" height="15" fill="#c0c0c0"/>
<rect x="403" y="429" width="3" height="12" fill="#c0c0c0"/>
<rect x="411" y="431" width="3" height="10" fill="#c0c0c0"/>
<rect x="419" y="434" width="3" height="7" fill="#c0c0c0"/>
<rect x="427" y="435" width="3" height="6" fill="#c0c0c0"/>
<rect x="435" y="434" width="3" height="7" fill="#c0c0c0"/>
<rect x="443" y="434" width="3" height="7" fill="#c0c0c0"/>
<rect x="451" y="437" width="3" height="4" fill="#c0c0c0"/>
<rect x="459" y="439" width="3" height="2" fill="#c0c0c0"/>
<rect x="467" y="441" width="3" height="1" fill="#c0c0c0"/>
<rect x="475" y="441" width="3" height="4" fill="#c0c0c0"/>
<rect x="483" y="441" width="3" height="5" fill="#c0c0c0"/>
<rect x="491" y="441" width="3" height="8" fill="#c0c0c0"/>
<rect x="499" y="441" width="3" height="12" fill="#c0c0c0"/>
<rect x="507" y="441" width="3" height="15" fill="#c0c0c0"/>
<rect x="515" y="441" width="3" height="17" fill="#c0c0c0"/>
<rect x="523" y="441" width="3" height="18" fill="#c0c0c0"/>
<rect x="531" y="441" width="3" height="20" fill="#c0c0c0"/>
<rect x="539" y="441" width="3" height="23" fill="#c0c0c0"/>
<rect x="547" y="441" width="3" height="26" fill="#c0c0c0"/>
<rect x="555" y="441" width="3" height="27" fill="#c0c0c0"/>
<rect x="563" y="441" width="3" height="28" fill="#c0c0c0"/>
<rect x="571" y="441" width="3" height="29" fill="#c0c0c0"/>
<rect x="579" y="441" width="3" height="30" fill="#c0c0c0"/>
<rect x="587" y="441" width="3" height="30" fill="#c0c0c0"/>
<rect x="595" y="441" width="3" height="29" fill="#c0c0c0"/>
<rect x="603" y="441" width="3" height="27" fill="#c0c0c0"/>
<rect x="611" y="441" width="3" height="27" fill="#c0c0c0"/>
<rect x="619" y="441" width="3" height="25" fill="#c0c0c0"/>
<rect x="627" y="441" width="3" height="24" fill="#c0c0c0"/>
<rect x="635" y="441" width="3" height="24" fill="#c0c0c0"/>
<rect x="643" y="441" width="3" height="22" fill="#c0c0c0"/>
<rect x="651" y="441" width="3" height="21" fill="#c0c0c0"/>
<rect x="659" y="441" width="3" height="20" fill="#c0c0c0"/>
<rect x="667" y="441" width="3" height="18" fill="#c0c0c0"/>
<rect x="675" y="441" width="3" height="17" fill="#c0c0c0"/>
<rect x="683" y="441" width="3" height="13" fill="#c0c0c0"/>
<rect x="691" y="441" width="3" height="11" fill="#c0c0c0"/>
<rect x="699" y="441" width="3" height="9" fill="#c0c0c0"/>
<rect x="707" y="441" width="3" height="7" fill="#c0c0c0"/>
<rect x="715" y="441" width="3" height="6" fill="#c0c0c0"/>
<rect x="723" y="441" width="3" height="4" fill="#c0c0c0"/>
<rect x="731" y="439" width="3" height="2" fill="#c0c0c0"/>
<rect x="739" y="436" width="3" height="5" fill="#c0c0c0"/>
<rect x="747" y="434" width="3" height="7" fill="#c0c0c0"/>
<rect x="755" y="434" width="3" height="7" fill="#c0c0c0"/>
<rect x="763" y="432" width="3" height="9" fill="#c0c0c0"/>
<rect x="771" y="429" width="3" height="12" fill="#c0c0c0"/>
<rect x="779" y="428" width="3" height="13" fill="#c0c0c0"/>
<rect x="787" y="425" width="3" height="16" fill="#c0c0c0"/>
<rect x="795" y="423" width="3" height="18" fill="#c0c0c0"/>
<rect x="803" y="420" width="3" height="21" fill="#c0c0c0"/>
<rect x="811" y="419" width="3" height="22" fill="#c0c0c0"/>
<rect x="819" y="419" width="3" height="22" fill="#c0c0c0"/>
<rect x="827" y="419" width="3" height="22" fill="#c0c0c0"/>
<rect x="835" y="416" width="3" height="25" fill="#c0c0c0"/>
<rect x="843" y="415" width="3" height="26" fill="#c0c0c0"/>
<rect x="851" y="415" width="3" height="26" fill="#c0c0c0"/>
<rect x="859" y="414" width="3" height="27" fill="#c0c0c0"/>
<rect x="867" y="412" width="3" height="29" fill="#c0c0c0"/>
<rect x="875" y="411" width="3" height="30" fill="#c0c0c0"/>
<rect x="883" y="410" width="3" height="31" fill="#c0c0c0"/>
<rect x="891" y="410" width="3" height="31" fill="#c0c0c0"/>
<rect x="899" y="412" width="3" height="29" fill="#c0c0c0"/>
<rect x="907" y="417" width="3" height="24" fill="#c0c0c0"/>
<rect x="915" y="421" width="3" height="20" fill="#c0c0c0"/>
<rect x="3" y="405" width="1" height="70" fill="#000"/>
<g shape-rendering="crispEdges">
<path d="M4.0,412.8C6.5,413.5 14.8,415.8 19.9,417.4C25.0,419.0 30.1,421.1 35.8,422.8C41.5,424.5 49.2,426.4 55.6,427.9C62.0,429.4 69.8,431.4 75.5,432.3C81.2,433.2 86.3,432.9 91.4,433.3C96.5,433.7 100.9,434.2 107.3,434.7C113.7,435.2 123.5,436.3 131.1,436.3C138.7,436.3 148.6,435.7 155.0,434.9C161.4,434.1 165.8,432.6 170.9,431.3C176.0,430.0 181.7,427.9 186.8,426.7C191.9,425.5 198.3,424.5 202.7,423.9C207.1,423.3 210.8,422.9 214.6,422.8C218.4,422.7 222.4,422.8 226.5,423.3C230.6,423.8 235.9,425.1 240.0,425.9C244.1,426.7 248.7,427.4 251.9,428.3C255.1,429.2 256.1,430.1 259.9,431.3C263.7,432.5 271.0,434.7 275.8,435.7C280.6,436.7 285.9,437.2 289.7,437.7C293.5,438.2 292.6,438.6 299.6,438.8C306.6,439.0 325.1,439.2 333.4,438.8C341.7,438.4 345.9,437.0 351.3,436.3C356.7,435.6 361.8,435.6 367.2,434.7C372.6,433.8 380.6,431.7 385.0,430.9C389.4,430.1 391.5,430.1 395.0,429.9C398.5,429.7 404.4,430.1 406.9,429.9C409.4,429.7 408.0,429.1 410.9,428.9C413.8,428.7 422.3,428.7 424.8,428.9C427.3,429.1 424.3,429.7 426.8,429.9C429.3,430.1 436.9,429.5 440.7,429.9C444.5,430.3 447.1,431.6 450.6,432.3C454.1,433.0 458.7,433.4 462.5,434.3C466.3,435.2 471.6,437.1 474.4,437.7C477.2,438.3 475.9,437.5 480.0,438.2C484.1,438.9 494.2,440.9 499.9,442.2C505.6,443.5 511.4,444.9 515.8,446.2C520.2,447.5 523.9,448.9 527.7,450.2C531.5,451.5 535.2,453.1 539.6,454.5C544.0,455.9 550.4,457.2 555.5,458.7C560.6,460.2 566.3,462.5 571.4,463.7C576.5,464.9 583.5,465.4 587.3,466.1C591.1,466.8 592.7,467.6 595.2,468.1C597.7,468.6 597.5,468.9 603.2,469.0C608.9,469.1 624.0,469.1 631.0,469.0C638.0,468.9 642.5,468.7 646.9,468.1C651.3,467.5 654.4,466.0 658.8,465.1C663.2,464.2 669.6,463.4 674.7,462.5C679.8,461.6 685.5,460.6 690.6,459.5C695.7,458.4 701.8,456.8 706.5,455.7C711.2,454.6 714.7,454.1 720.0,452.9C725.3,451.7 734.2,449.8 739.9,448.2C745.6,446.6 749.4,444.9 755.8,443.2C762.2,441.5 773.2,439.0 779.6,437.3C786.0,435.6 789.1,434.1 795.5,432.3C801.9,430.5 811.7,428.1 819.3,426.3C826.9,424.5 835.6,422.5 843.2,421.0C850.8,419.5 860.0,417.9 867.0,416.8C874.0,415.7 883.1,414.9 886.9,414.4C890.7,413.9 886.3,413.9 890.9,413.8C895.5,413.7 911.7,413.8 915.7,413.8" fill="none" stroke="#ff0000" stroke-width="1"/>
<line x1="5" y1="498.5" x2="1166" y2="498.5" stroke="#c0c0c0" stroke-width="1" stroke-dasharray="3 3"/>
<line x1="5" y1="526.5" x2="1166" y2="526.5" stroke="#c0c0c0" stroke-width="1" stroke-dasharray="3 3"/>
<polyline points="4.0,511.2 12.9,516.2 19.9,514.6 29.8,514.6 42.7,510.8 53.6,510.8 60.6,512.8 68.5,509.6 74.5,508.6 85.4,508.6 92.4,512.2 99.3,513.8 105.3,512.8 124.2,512.8 140.1,504.7 148.0,502.7 156.9,495.7 165.9,495.7 172.8,497.9 180.8,510.8 188.7,513.8 196.7,513.8 204.6,508.6 212.6,512.8 245.0,512.8 253.9,517.2 260.9,518.8 275.8,516.8 285.7,508.8 292.7,507.7 299.6,509.6 310.5,509.6 316.5,508.6 324.4,510.8 331.4,508.6 340.3,513.6 347.3,510.2 356.2,506.9 371.1,504.3 379.1,502.7 388.0,505.9 397.0,513.6 406.9,513.6 419.8,515.8 427.8,512.8 436.7,507.9 443.7,512.2 451.6,515.8 461.5,515.8 474.5,518.8 480.0,518.3 486.0,517.8 500.9,524.5 507.8,522.6 525.7,522.6 540.6,527.7 548.5,526.5 554.5,527.7 567.4,527.7 579.3,529.7 588.3,524.5 599.2,524.5 617.1,521.8 625.0,521.8 636.0,524.5 643.9,520.8 651.9,519.6 659.8,520.8 667.8,516.6 675.7,519.8 684.6,511.6 690.6,510.6 696.6,510.8 704.5,512.2 715.4,513.8 720.0,511.4 732.9,500.7 740.9,504.7 748.8,506.3 755.8,508.8 764.7,504.3 771.7,502.7 780.6,502.3 788.5,499.7 796.5,500.7 803.4,498.7 812.4,501.7 819.3,502.7 828.3,502.7 836.2,496.7 845.2,502.7 852.1,501.7 860.1,499.7 873.0,497.7 885.9,497.7 892.9,500.3 899.8,505.3 908.7,514.8 915.7,514.8" fill="none" stroke="#1e90ff" stroke-width="1"/>
</g>
<rect x="1167" y="37" width="2" height="1" fill="#000"/>
<text x="1172.5" y="41" font-size="9.8" fill="#000" textLength="32.3" lengthAdjust="spacingAndGlyphs" stroke="#000" stroke-width="0.2">1.29585</text>
<rect x="1167" y="70" width="2" height="1" fill="#000"/>
<text x="1172.5" y="74" font-size="9.8" fill="#000" textLength="32.3" lengthAdjust="spacingAndGlyphs" stroke="#000" stroke-width="0.2">1.28970</text>
<rect x="1167" y="103" width="2" height="1" fill="#000"/>
<text x="1172.5" y="107" font-size="9.8" fill="#000" textLength="32.3" lengthAdjust="spacingAndGlyphs" stroke="#000" stroke-width="0.2">1.28340</text>
<rect x="1167" y="136" width="2" height="1" fill="#000"/>
<text x="1172.5" y="140" font-size="9.8" fill="#000" textLength="32.3" lengthAdjust="spacingAndGlyphs" stroke="#000" stroke-width="0.2">1.27725</text>
<rect x="1167" y="169" width="2" height="1" fill="#000"/>
<text x="1172.5" y="173" font-size="9.8" fill="#000" textLength="32.3" lengthAdjust="spacingAndGlyphs" stroke="#000" stroke-width="0.2">1.27095</text>
<rect x="1167" y="235" width="2" height="1" fill="#000"/>
<text x="1172.5" y="239" font-size="9.8" fill="#000" textLength="32.3" lengthAdjust="spacingAndGlyphs" stroke="#000" stroke-width="0.2">1.25850</text>
<rect x="1167" y="268" width="2" height="1" fill="#000"/>
<text x="1172.5" y="272" font-size="9.8" fill="#000" textLength="32.3" lengthAdjust="spacingAndGlyphs" stroke="#000" stroke-width="0.2">1.25235</text>
<rect x="1167" y="301" width="2" height="1" fill="#000"/>
<text x="1172.5" y="305" font-size="9.8" fill="#000" textLength="32.3" lengthAdjust="spacingAndGlyphs" stroke="#000" stroke-width="0.2">1.24605</text>
<rect x="1167" y="334" width="2" height="1" fill="#000"/>
<text x="1172.5" y="338" font-size="9.8" fill="#000" textLength="32.3" lengthAdjust="spacingAndGlyphs" stroke="#000" stroke-width="0.2">1.23990</text>
<rect x="1167" y="367" width="2" height="1" fill="#000"/>
<text x="1172.5" y="371" font-size="9.8" fill="#000" textLength="32.3" lengthAdjust="spacingAndGlyphs" stroke="#000" stroke-width="0.2">1.23375</text>
<rect x="1168" y="73" width="40" height="11" fill="#ff0000"/>
<text x="1172.5" y="82" font-size="9.8" fill="#fff" textLength="32.3" lengthAdjust="spacingAndGlyphs" stroke="#fff" stroke-width="0.2">1.28792</text>
<rect x="1168" y="141" width="40" height="11" fill="#ff0000"/>
<text x="1172.5" y="150" font-size="9.8" fill="#fff" textLength="32.3" lengthAdjust="spacingAndGlyphs" stroke="#fff" stroke-width="0.2">1.27519</text>
<rect x="1168" y="211" width="40" height="11" fill="#00ff00"/>
<text x="1172.5" y="220" font-size="9.8" fill="#fff" textLength="32.3" lengthAdjust="spacingAndGlyphs" stroke="#fff" stroke-width="0.2">1.26204</text>
<rect x="1168" y="274" width="40" height="11" fill="#0000ff"/>
<text x="1172.5" y="283" font-size="9.8" fill="#fff" textLength="32.3" lengthAdjust="spacingAndGlyphs" stroke="#fff" stroke-width="0.2">1.25008</text>
<rect x="1168" y="338" width="40" height="11" fill="#0000ff"/>
<text x="1172.5" y="347" font-size="9.8" fill="#fff" textLength="32.3" lengthAdjust="spacingAndGlyphs" stroke="#fff" stroke-width="0.2">1.23812</text>
<rect x="1168" y="394" width="40" height="11" fill="#0000ff"/>
<text x="1172.5" y="403" font-size="9.8" fill="#fff" textLength="32.3" lengthAdjust="spacingAndGlyphs" stroke="#fff" stroke-width="0.2">1.22751</text>
<rect x="1168" y="199" width="40" height="11" fill="#000"/>
<text x="1172.5" y="208" font-size="9.8" fill="#fff" textLength="32.3" lengthAdjust="spacingAndGlyphs" stroke="#fff" stroke-width="0.2">1.26435</text>
<rect x="1167" y="407" width="1" height="1" fill="#000"/>
<rect x="1167" y="441" width="2" height="1" fill="#000"/>
<rect x="1167" y="473" width="1" height="1" fill="#000"/>
<rect x="1167" y="478" width="1" height="1" fill="#000"/>
<rect x="1167" y="547" width="1" height="1" fill="#000"/>
<text x="1170.3" y="416" font-size="9.8" fill="#000" textLength="37.5" lengthAdjust="spacingAndGlyphs" stroke="#000" stroke-width="0.2">0.009345</text>
<text x="1170.3" y="445" font-size="9.8" fill="#000" textLength="17.5" lengthAdjust="spacingAndGlyphs" stroke="#000" stroke-width="0.2">0.00</text>
<text x="1170.3" y="471" font-size="9.8" fill="#000" textLength="40.5" lengthAdjust="spacingAndGlyphs" stroke="#000" stroke-width="0.2">-0.008902</text>
<text x="1170.3" y="487" font-size="9.8" fill="#000" textLength="14.5" lengthAdjust="spacingAndGlyphs" stroke="#000" stroke-width="0.2">100</text>
<text x="1169.5" y="502" font-size="9.8" fill="#000" textLength="9.6" lengthAdjust="spacingAndGlyphs" stroke="#000" stroke-width="0.2">70</text>
<text x="1169.5" y="530" font-size="9.8" fill="#000" textLength="9.6" lengthAdjust="spacingAndGlyphs" stroke="#000" stroke-width="0.2">30</text>
<text x="1170.1" y="545" font-size="9.8" fill="#000" textLength="4.8" lengthAdjust="spacingAndGlyphs" stroke="#000" stroke-width="0.2">0</text>
<rect x="4" y="548" width="1" height="4" fill="#000"/>
<text x="3" y="561" font-size="9.8" fill="#000" textLength="46.5" lengthAdjust="spacingAndGlyphs" stroke="#000" stroke-width="0.2">28 Jul 2021</text>
<rect x="68" y="548" width="1" height="4" fill="#000"/>
<text x="67" y="561" font-size="9.8" fill="#000" textLength="46.9" lengthAdjust="spacingAndGlyphs" stroke="#000" stroke-width="0.2">6 Aug 2021</text>
<rect x="132" y="548" width="1" height="4" fill="#000"/>
<text x="131" y="561" font-size="9.8" fill="#000" textLength="52.5" lengthAdjust="spacingAndGlyphs" stroke="#000" stroke-width="0.2">16 Aug 2021</text>
<rect x="196" y="548" width="1" height="4" fill="#000"/>
<text x="195" y="561" font-size="9.8" fill="#000" textLength="51.7" lengthAdjust="spacingAndGlyphs" stroke="#000" stroke-width="0.2">25 Aug 2021</text>
<rect x="260" y="548" width="1" height="4" fill="#000"/>
<text x="259" y="561" font-size="9.8" fill="#000" textLength="45.7" lengthAdjust="spacingAndGlyphs" stroke="#000" stroke-width="0.2">3 Sep 2021</text>
<rect x="324" y="548" width="1" height="4" fill="#000"/>
<text x="323" y="561" font-size="9.8" fill="#000" textLength="50.5" lengthAdjust="spacingAndGlyphs" stroke="#000" stroke-width="0.2">13 Sep 2021</text>
<rect x="388" y="548" width="1" height="4" fill="#000"/>
<text x="387" y="561" font-size="9.8" fill="#000" textLength="50.9" lengthAdjust="spacingAndGlyphs" stroke="#000" stroke-width="0.2">22 Sep 2021</text>
<rect x="452" y="548" width="1" height="4" fill="#000"/>
<text x="451" y="561" font-size="9.8" fill="#000" textLength="45" lengthAdjust="spacingAndGlyphs" stroke="#000" stroke-width="0.2">1 Oct 2021</text>
<rect x="516" y="548" width="1" height="4" fill="#000"/>
<text x="515" y="561" font-size="9.8" fill="#000" textLength="50" lengthAdjust="spacingAndGlyphs" stroke="#000" stroke-width="0.2">11 Oct 2021</text>
<rect x="580" y="548" width="1" height="4" fill="#000"/>
<text x="579" y="561" font-size="9.8" fill="#000" textLength="50" lengthAdjust="spacingAndGlyphs" stroke="#000" stroke-width="0.2">20 Oct 2021</text>
<rect x="644" y="548" width="1" height="4" fill="#000"/>
<text x="643" y="561" font-size="9.8" fill="#000" textLength="50" lengthAdjust="spacingAndGlyphs" stroke="#000" stroke-width="0.2">29 Oct 2021</text>
<rect x="708" y="548" width="1" height="4" fill="#000"/>
<text x="707" y="561" font-size="9.8" fill="#000" textLength="46.8" lengthAdjust="spacingAndGlyphs" stroke="#000" stroke-width="0.2">8 Nov 2021</text>
<rect x="772" y="548" width="1" height="4" fill="#000"/>
<text x="771" y="561" font-size="9.8" fill="#000" textLength="51.9" lengthAdjust="spacingAndGlyphs" stroke="#000" stroke-width="0.2">17 Nov 2021</text>
<rect x="836" y="548" width="1" height="4" fill="#000"/>
<text x="835" y="561" font-size="9.8" fill="#000" textLength="51.9" lengthAdjust="spacingAndGlyphs" stroke="#000" stroke-width="0.2">26 Nov 2021</text>
<rect x="900" y="548" width="1" height="4" fill="#000"/>
<text x="899" y="561" font-size="9.8" fill="#000" textLength="46.5" lengthAdjust="spacingAndGlyphs" stroke="#000" stroke-width="0.2">6 Dec 2021</text>
<text x="8" y="418" font-size="9.8" fill="#000" textLength="147" lengthAdjust="spacingAndGlyphs" stroke="#000" stroke-width="0.2">MACD(12,26,9) 0.005295 0.007488</text>
<text x="8" y="489" font-size="9.8" fill="#000" textLength="67.5" lengthAdjust="spacingAndGlyphs" stroke="#000" stroke-width="0.2">RSI(14) 47.6641</text>
<polygon points="7,35 14.2,35 10.6,31.2" fill="#000" style="shape-rendering:auto"/>
<text x="19.4" y="36" font-size="9.8" fill="#000" textLength="67.3" lengthAdjust="spacingAndGlyphs" stroke="#000" stroke-width="0.2">USDCAD-,Daily</text>
<text x="94.8" y="36" font-size="9.8" fill="#000" textLength="140.2" lengthAdjust="spacingAndGlyphs" stroke="#000" stroke-width="0.2">1.26445 1.26461 1.26415 1.26435</text>
<defs>
<linearGradient id="g1" x1="0" y1="0" x2="0" y2="1"><stop offset="0" stop-color="#f75252"/><stop offset="1" stop-color="#dc2e2e"/></linearGradient>
<linearGradient id="g2" x1="0" y1="0" x2="0" y2="1"><stop offset="0" stop-color="#db2b2b"/><stop offset="1" stop-color="#a90505"/></linearGradient>
<linearGradient id="g3" x1="0" y1="0" x2="0" y2="1"><stop offset="0" stop-color="#f2f2f2"/><stop offset="1" stop-color="#c8c8c8"/></linearGradient>
</defs>
<rect x="5" y="43" width="223" height="59" fill="#fff"/>
<rect x="7" y="44" width="52" height="25" fill="url(#g1)"/>
<rect x="7" y="44" width="52" height="1" fill="#c42020"/>
<rect x="7" y="44" width="1" height="25" fill="#c42020"/>
<rect x="175" y="44" width="51" height="25" fill="url(#g1)"/>
<rect x="175" y="44" width="51" height="1" fill="#c42020"/>
<rect x="225" y="44" width="1" height="25" fill="#c42020"/>
<rect x="7" y="68" width="109" height="33" fill="url(#g2)"/>
<rect x="118" y="68" width="108" height="33" fill="url(#g2)"/>
<rect x="11" y="67" width="44" height="1" fill="#b41c1c"/>
<rect x="178" y="67" width="44" height="1" fill="#b41c1c"/>
<rect x="11" y="68" width="44" height="1" fill="#ee9a9a"/>
<rect x="178" y="68" width="44" height="1" fill="#ee9a9a"/>
<rect x="61.5" y="44.5" width="110" height="21" fill="#fff" stroke="#b4b4b4" stroke-width="1"/>
<rect x="62.5" y="45.5" width="19" height="19" fill="url(#g3)" stroke="#c4c4c4" stroke-width="1"/>
<rect x="151.5" y="45.5" width="19" height="19" fill="url(#g3)" stroke="#c4c4c4" stroke-width="1"/>
<polygon points="69,53 74.4,53 71.7,56.3" fill="#4a5fb5" style="shape-rendering:auto"/>
<polygon points="158,56.3 163.4,56.3 160.7,53" fill="#6a7fc5" style="shape-rendering:auto"/>
<text x="123.7" y="58.6" font-size="11.5" fill="#000" textLength="22.2" lengthAdjust="spacingAndGlyphs">3.00</text>
<text x="19.5" y="60" font-size="12" fill="#fff" textLength="25.4" lengthAdjust="spacingAndGlyphs">SELL</text>
<text x="187.9" y="60" font-size="12" fill="#fff" textLength="22.2" lengthAdjust="spacingAndGlyphs">BUY</text>
<text x="27.4" y="95.8" font-size="12.5" fill="#fff" textLength="23.8" lengthAdjust="spacingAndGlyphs" font-weight="bold">1.26</text>
<text x="54.7" y="96" font-size="33" fill="#fff" textLength="33.4" lengthAdjust="spacingAndGlyphs">43</text>
<text x="94.6" y="80" font-size="11.8" fill="#fff" textLength="5.8" lengthAdjust="spacingAndGlyphs" font-weight="bold">5</text>
<text x="137.4" y="95.8" font-size="12.5" fill="#fff" textLength="23.8" lengthAdjust="spacingAndGlyphs" font-weight="bold">1.26</text>
<text x="165.3" y="96" font-size="33" fill="#fff" textLength="35" lengthAdjust="spacingAndGlyphs">46</text>
<text x="206.1" y="80" font-size="11.8" fill="#fff" textLength="5.4" lengthAdjust="spacingAndGlyphs" font-weight="bold">1</text>
<rect x="0" y="569" width="1208" height="2" fill="#e6e6e6"/>
<rect x="0" y="572" width="1208" height="19" fill="#f0f0f0"/>
<rect x="0" y="591" width="1208" height="3" fill="#f8f8f8"/>
<rect x="0" y="571" width="1208" height="1" fill="#000"/>
<rect x="0" y="572" width="1" height="17" fill="#5a5a5a"/>
<rect x="419" y="571" width="105" height="17" fill="#fff"/>
<rect x="417" y="572" width="2" height="18" fill="#000"/>
<rect x="524" y="572" width="2" height="18" fill="#000"/>
<rect x="417" y="588" width="109" height="2" fill="#000"/>
<text x="16.3" y="585.5" font-size="12" fill="#787878" textLength="77.6" lengthAdjust="spacingAndGlyphs">USDX,Weekly</text>
<text x="116.5" y="585.5" font-size="12" fill="#787878" textLength="84.5" lengthAdjust="spacingAndGlyphs">EURUSD-,Daily</text>
<text x="223.6" y="585.5" font-size="12" fill="#787878" textLength="85.9" lengthAdjust="spacingAndGlyphs">AUDUSD-,Daily</text>
<text x="333.1" y="585.5" font-size="12" fill="#787878" textLength="72.0" lengthAdjust="spacingAndGlyphs">USDCHF-,H4</text>
<text x="428.5" y="585.5" font-size="12" fill="#000" textLength="85.4" lengthAdjust="spacingAndGlyphs">USDCAD-,Daily</text>
<text x="537.4" y="585.5" font-size="12" fill="#787878" textLength="86.9" lengthAdjust="spacingAndGlyphs">USDCNH-,Daily</text>
<text x="648" y="585.5" font-size="12" fill="#787878" textLength="85.8" lengthAdjust="spacingAndGlyphs">XAUUSD-,Daily</text>
<text x="756.4" y="585.5" font-size="12" fill="#787878" textLength="55.7" lengthAdjust="spacingAndGlyphs">UKOil-,H1</text>
<text x="837.1" y="585.5" font-size="12" fill="#787878" textLength="51.5" lengthAdjust="spacingAndGlyphs">DJ30-,H4</text>
<text x="912.6" y="585.5" font-size="12" fill="#787878" textLength="73.3" lengthAdjust="spacingAndGlyphs">UK100-,Daily</text>
<rect x="105" y="575" width="1" height="13" fill="#707070"/>
<rect x="213" y="575" width="1" height="13" fill="#707070"/>
<rect x="321" y="575" width="1" height="13" fill="#707070"/>
<rect x="637" y="575" width="1" height="13" fill="#707070"/>
<rect x="746" y="575" width="1" height="13" fill="#707070"/>
<rect x="825" y="575" width="1" height="13" fill="#707070"/>
<rect x="901" y="575" width="1" height="13" fill="#707070"/>
<rect x="997" y="575" width="1" height="13" fill="#707070"/>
<polygon points="1185,577 1185,584 1181.5,580.5" fill="#909090"/>
<polygon points="1201,577 1201,584 1204.5,580.5" fill="#909090"/>
</svg>
</body></html>
